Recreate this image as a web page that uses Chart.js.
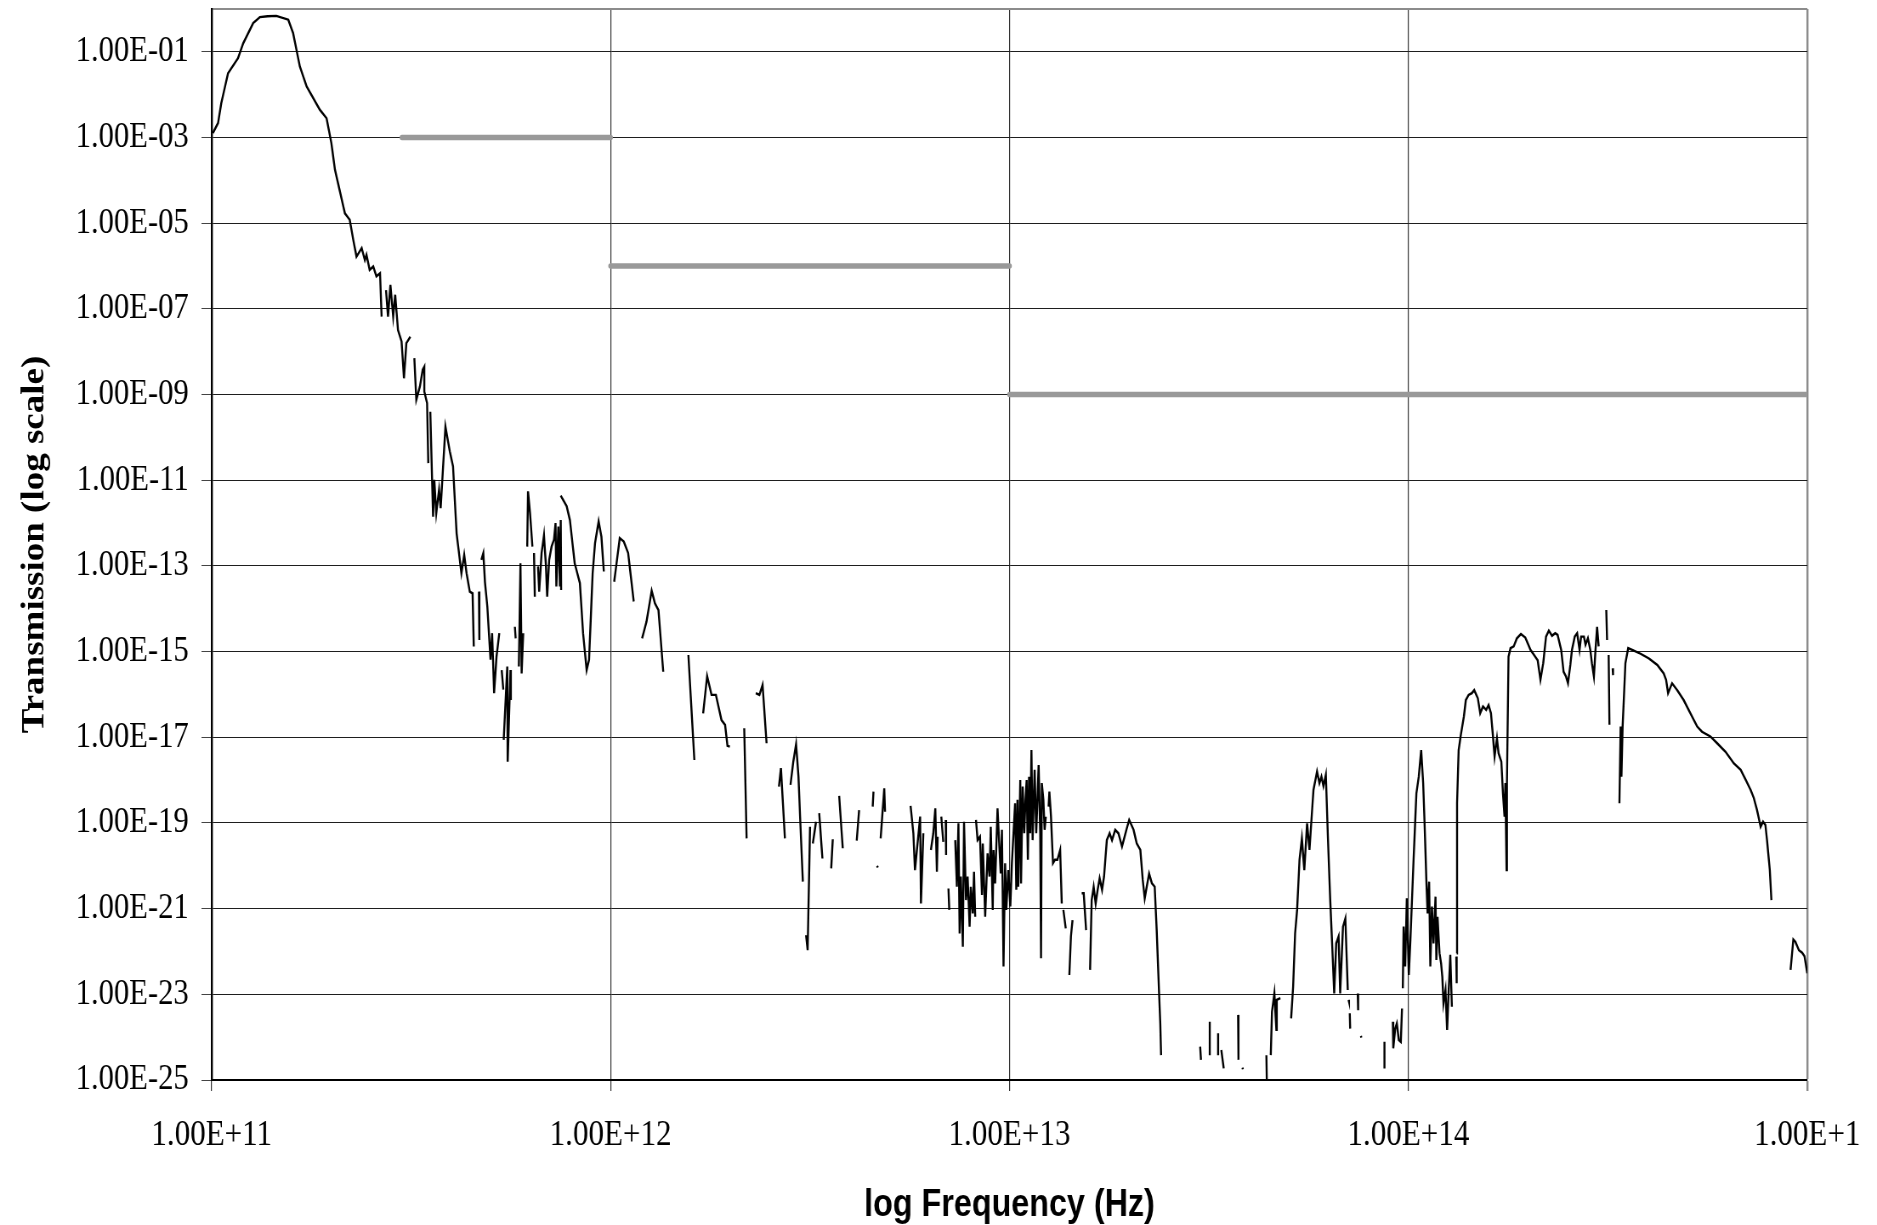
<!DOCTYPE html>
<html>
<head>
<meta charset="utf-8">
<title>Transmission vs frequency</title>
<script src="https://cdn.jsdelivr.net/npm/chart.js@4.4.0/dist/chart.umd.min.js"></script>
<style>
  html, body { margin: 0; padding: 0; background: #fff; }
  canvas { display: block; }
</style>
</head>
<body>
<!-- the original figure is squeezed sideways (narrow text), so draw wider and let css squeeze it -->
<canvas id="chart" width="2208" height="1225" style="width:1877px;height:1225px"></canvas>
<script>
// axis ticks (log10 values)
const xTickExp = [11, 12, 13, 14, 15];
const xTickLabels = ['1.00E+11', '1.00E+12', '1.00E+13', '1.00E+14', '1.00E+1'];
const yTickExp = [-25, -23, -21, -19, -17, -15, -13, -11, -9, -7, -5, -3, -1];
const yTickLabels = ['1.00E-25', '1.00E-23', '1.00E-21', '1.00E-19', '1.00E-17', '1.00E-15',
    '1.00E-13', '1.00E-11', '1.00E-09', '1.00E-07', '1.00E-05', '1.00E-03', '1.00E-01'];

// grey step limits
const limitFreq = [11.477, 12, null, 12, 13, null, 13, 15];
const limitTrans = [-3, -3, null, -6, -6, null, -9, -9];

// measured transmission, log10(Hz) and log10(T); null = gap in the data
const freqLog = [
    11.003,11.016,11.024,11.041,11.066,11.079,11.104,11.121,11.140,11.162,11.192,11.204,11.221,11.238,11.271,11.288,11.300,11.309,11.334,11.346,11.355,11.363,11.376,11.384,11.388,11.396,11.405,11.413,11.422,11.426, null,
    11.437,11.442,11.448,11.455,11.460,11.467,11.476,11.482,11.488,11.498, null,
    11.508,11.513,11.522,11.529,11.533,11.533,11.540,11.543, null,
    11.548,11.555,11.558,11.563,11.570,11.574,11.586,11.597,11.605,11.614,11.626,11.633,11.639,11.647,11.654,11.657, null,
    11.670,11.671, null,
    11.676,11.681,11.685,11.691,11.699,11.703,11.708,11.714,11.721, null,
    11.727,11.731, null,
    11.732,11.741,11.742,11.749,11.750, null,
    11.760,11.762, null,
    11.770,11.774,11.777,11.781, null,
    11.791,11.793,11.798,11.804, null,
    11.808,11.810, null,
    11.818,11.821,11.827,11.833,11.838,11.841,11.846,11.852,11.858,11.862,11.864,11.869,11.873,11.875,11.876, null,
    11.875,11.890,11.898,11.910,11.923,11.931,11.940,11.946,11.955,11.961,11.970,11.977,11.983, null,
    12.009,12.023,12.033,12.044,12.058, null,
    12.079,12.090,12.103,12.111,12.120,12.132, null,
    12.195,12.210, null,
    12.232,12.242,12.253,12.264,12.278,12.287,12.293,12.299, null,
    12.335,12.341, null,
    12.364,12.373,12.381,12.391, null,
    12.422,12.427,12.437, null,
    12.451,12.458,12.465,12.471,12.475,12.482, null,
    12.490,12.494,12.500, null,
    12.507,12.515, null,
    12.523,12.531, null,
    12.553,12.557, null,
    12.573,12.582, null,
    12.617,12.623, null,
    12.657,12.659, null,
    12.668,12.670, null,
    12.677,12.686,12.688, null,
    12.752,12.759,12.763,12.776,12.778,12.784, null,
    12.803,12.809,12.814,12.818,12.820, null,
    12.829,12.834, null,
    12.840,12.841, null,
    12.847,12.849, null,
    12.864,12.868,12.872,12.875,12.878,12.883,12.886,12.891,12.895,12.900,12.903,12.908,12.911,12.914, null,
    12.916,12.920,12.926,12.931,12.933,12.939,12.945,12.950,12.953,12.958,12.960,12.964,12.970,12.975,12.978,12.981,12.985,12.989,12.992,12.997,13.002,13.006,13.010,13.014,13.017,13.020,13.022,13.027,13.029,13.033,13.037,13.040,13.043,13.046,13.049,13.052,13.055,13.058,13.063,13.067,13.070,13.073,13.077,13.079,13.081,13.085,13.088,13.091, null,
    13.098,13.100,13.104,13.109,13.114,13.120,13.127,13.131, null,
    13.135,13.141, null,
    13.150,13.154,13.158, null,
    13.181,13.186,13.192, null,
    13.202,13.206,13.211,13.216,13.221,13.226,13.232,13.237,13.244,13.251,13.257,13.265,13.273,13.282,13.293,13.300,13.311,13.319,13.328,13.334,13.339,13.344,13.350,13.357,13.364,13.369,13.375,13.378,13.380, null,
    13.478,13.480, null,
    13.502,13.502, null,
    13.523,13.523, null,
    13.531,13.537, null,
    13.573,13.574, null,
    13.584,13.585, null,
    13.644,13.645, null,
    13.655,13.658,13.664,13.669,13.670,13.679, null,
    13.706,13.711,13.716,13.721,13.727,13.733,13.739,13.746,13.752,13.762,13.771,13.777,13.782,13.787,13.793,13.798,13.804,13.808,13.814,13.819,13.825,13.829,13.836,13.842,13.848, null,
    13.850,13.851, null,
    13.853,13.854, null,
    13.873,13.874, null,
    13.881,13.882, null,
    13.940,13.940, null,
    13.961,13.962,13.967,13.971,13.976,13.981,13.984, null,
    13.986,13.988,13.992,13.996,14.001,14.005,14.013,14.020,14.026,14.032,14.037,14.040,14.045,14.048,14.052,14.055,14.059,14.063,14.068,14.070,14.073,14.078,14.082,14.085,14.088,14.093,14.097,14.101,14.105,14.109, null,
    14.120,14.121, null,
    14.121,14.122,14.126,14.132,14.139,14.144,14.151,14.159,14.165,14.174,14.180,14.187,14.195,14.201,14.207,14.212,14.216,14.222,14.226,14.233,14.237,14.241,14.243,14.246,14.247,14.251,14.256,14.264,14.272,14.282,14.293,14.306,14.318,14.324,14.331,14.338,14.345,14.352,14.360,14.368,14.374,14.383,14.389,14.395,14.400,14.406,14.410,14.417,14.423,14.429,14.433,14.440,14.444,14.450,14.456,14.460,14.465,14.469,14.473,14.477, null,
    14.496,14.498, null,
    14.502,14.504, null,
    14.512,14.513, null,
    14.529,14.532,14.534,14.537,14.544,14.551,14.561,14.582,14.603,14.624,14.640,14.646,14.651,14.661,14.674,14.690,14.707,14.724,14.736,14.757,14.774,14.795,14.816,14.833,14.845,14.858,14.866,14.874,14.883,14.889,14.895,14.899,14.906,14.910, null,
    14.958,14.965,14.970,14.979,14.987,14.993,15.000
];
const transLog = [
    -2.90,-2.66,-2.20,-1.50,-1.15,-0.80,-0.33,-0.19,-0.17,-0.16,-0.25,-0.56,-1.34,-1.81,-2.35,-2.55,-3.13,-3.75,-4.77,-4.92,-5.39,-5.78,-5.58,-5.86,-5.74,-6.09,-6.01,-6.24,-6.17,-7.18, null,
    -6.56,-7.18,-6.44,-7.18,-6.67,-7.49,-7.76,-8.62,-7.80,-7.65, null,
    -8.15,-9.12,-8.81,-8.42,-8.35,-8.93,-9.20,-10.60, null,
    -9.40,-11.85,-10.99,-11.77,-11.22,-11.65,-9.75,-10.33,-10.68,-12.24,-13.17,-12.74,-13.17,-13.60,-13.64,-14.88, null,
    -13.60,-14.73, null,
    -12.86,-12.70,-13.37,-13.95,-15.19,-14.57,-15.97,-15.12,-14.57, null,
    -15.43,-15.89, null,
    -17.06,-15.35,-17.57,-15.43,-16.13, null,
    -14.42,-14.69, null,
    -15.35,-12.94,-15.51,-14.57, null,
    -12.55,-11.26,-11.77,-12.55, null,
    -12.70,-13.72, null,
    -13.01,-13.60,-12.70,-12.28,-13.01,-13.72,-12.86,-12.55,-12.39,-12.00,-13.48,-12.08,-13.48,-11.93,-13.56, null,
    -11.36,-11.61,-11.93,-12.94,-13.40,-14.57,-15.43,-15.19,-13.17,-12.47,-11.96,-12.32,-13.13, null,
    -13.37,-12.35,-12.43,-12.70,-13.83, null,
    -14.69,-14.30,-13.58,-13.87,-14.03,-15.47, null,
    -15.08,-17.53, null,
    -16.44,-15.57,-16.01,-16.01,-16.60,-16.71,-17.20,-17.22, null,
    -16.79,-19.36, null,
    -15.97,-16.01,-15.78,-17.14, null,
    -18.15,-17.72,-19.36, null,
    -18.11,-17.57,-17.16,-17.92,-18.85,-20.37, null,
    -21.62,-21.97,-19.09, null,
    -19.48,-18.97, null,
    -18.77,-19.83, null,
    -20.06,-19.38, null,
    -18.37,-19.59, null,
    -19.41,-18.70, null,
    -18.62,-18.27, null,
    -20.00,-20.04, null,
    -19.36,-18.19,-18.74, null,
    -18.60,-19.24,-20.10,-18.85,-20.88,-19.24, null,
    -19.63,-19.24,-18.66,-20.14,-19.32, null,
    -18.85,-19.44, null,
    -18.93,-19.75, null,
    -20.53,-21.03, null,
    -19.40,-20.49,-19.01,-21.58,-20.25,-21.89,-18.97,-20.80,-20.25,-21.42,-20.49,-21.11,-20.14,-21.19, null,
    -18.93,-19.40,-19.32,-20.68,-19.48,-21.19,-19.71,-20.25,-19.09,-21.03,-19.63,-20.41,-18.66,-19.63,-20.18,-19.16,-22.35,-19.94,-21.03,-20.10,-20.95,-19.94,-19.24,-18.54,-20.56,-18.46,-20.49,-18.00,-20.41,-18.15,-19.24,-18.46,-18.00,-19.86,-17.92,-19.24,-17.30,-19.40,-17.76,-19.24,-18.46,-17.65,-19.24,-22.16,-18.07,-18.46,-19.16,-18.85, null,
    -18.62,-18.27,-18.85,-19.94,-19.86,-19.86,-19.63,-20.88, null,
    -21.03,-21.46, null,
    -22.55,-21.65,-21.27, null,
    -20.64,-20.64,-21.50, null,
    -22.43,-20.80,-20.49,-20.88,-20.56,-20.29,-20.56,-20.25,-19.40,-19.24,-19.40,-19.16,-19.24,-19.55,-19.16,-18.93,-19.16,-19.48,-19.63,-20.33,-20.76,-20.49,-20.18,-20.41,-20.49,-21.50,-22.98,-23.68,-24.42, null,
    -24.22,-24.53, null,
    -23.64,-24.42, null,
    -23.91,-24.42, null,
    -24.30,-24.73, null,
    -23.48,-24.53, null,
    -24.71,-24.75, null,
    -24.42,-25.00, null,
    -24.42,-23.41,-22.98,-23.83,-23.13,-23.09, null,
    -23.56,-22.82,-21.58,-21.03,-19.86,-19.36,-20.10,-19.01,-19.63,-18.23,-17.80,-18.07,-17.92,-18.14,-17.88,-19.28,-20.80,-21.65,-22.98,-21.81,-21.65,-22.98,-21.42,-21.23,-22.90, null,
    -23.13,-23.17, null,
    -23.44,-23.80, null,
    -22.98,-23.37, null,
    -23.97,-24.01, null,
    -24.11,-24.73, null,
    -23.64,-24.26,-23.80,-23.68,-24.07,-24.11,-23.33, null,
    -22.86,-21.42,-22.35,-20.76,-22.55,-21.73,-19.86,-18.31,-17.92,-17.30,-18.07,-18.85,-20.33,-21.11,-20.37,-22.35,-20.95,-21.81,-20.72,-22.20,-21.19,-22.04,-22.28,-22.59,-23.21,-22.90,-23.83,-22.90,-22.08,-23.29, null,
    -22.12,-22.74, null,
    -22.04,-18.54,-17.30,-16.91,-16.52,-16.13,-16.01,-15.97,-15.90,-16.09,-16.44,-16.28,-16.36,-16.25,-16.44,-16.98,-17.45,-17.02,-17.37,-17.57,-18.31,-18.85,-18.07,-20.10,-18.07,-15.12,-14.92,-14.88,-14.69,-14.59,-14.67,-14.96,-15.12,-15.20,-15.66,-15.27,-14.65,-14.51,-14.63,-14.57,-14.61,-14.96,-15.47,-15.58,-15.74,-15.31,-14.96,-14.65,-14.57,-14.96,-14.65,-14.65,-14.84,-14.69,-14.96,-15.27,-15.58,-14.96,-14.42,-14.88, null,
    -14.03,-14.73, null,
    -15.08,-16.71, null,
    -15.39,-15.55, null,
    -18.54,-16.75,-17.92,-16.75,-15.27,-14.92,-14.96,-15.05,-15.16,-15.31,-15.51,-15.66,-15.97,-15.74,-15.90,-16.13,-16.44,-16.75,-16.87,-16.98,-17.14,-17.34,-17.61,-17.76,-17.98,-18.23,-18.42,-18.70,-19.09,-18.97,-19.05,-19.40,-20.10,-20.80, null,
    -22.43,-21.72,-21.77,-21.97,-22.03,-22.11,-22.51
];

if (freqLog.length !== transLog.length) console.log('length mismatch', freqLog.length, transLog.length);

let curve = freqLog.map((f, i) => ({ x: f, y: transLog[i] }));
let limits = limitFreq.map((f, i) => ({ x: f, y: limitTrans[i] }));

const isTick = (c, v) => c.tick && c.tick.value === v;

new Chart(document.getElementById('chart'), {
    type: 'line',
    data: {
        datasets: [
            {
                label: 'Transmission',
                data: curve,
                borderColor: '#000',
                borderWidth: 2.4,
                pointRadius: 0,
                tension: 0,
                spanGaps: false
            },
            {
                label: 'Limit',
                data: limits,
                borderColor: '#999999',
                borderWidth: 5.5,
                borderCapStyle: 'round',
                pointRadius: 0,
                spanGaps: false
            }
        ]
    },
    options: {
        responsive: false,
        animation: false,
        devicePixelRatio: 1,
        layout: { padding: { left: 0, top: 9, right: 82, bottom: 0 } },
        plugins: { legend: { display: false }, tooltip: { enabled: false } },
        scales: {
            x: {
                type: 'linear',
                min: 11,
                max: 15,
                afterBuildTicks: s => { s.ticks = xTickExp.map(v => ({ value: v })); },
                afterFit: s => { s.height = 145; s.paddingLeft = 0; s.paddingRight = 0; },
                grid: {
                    color: c => isTick(c, 15) ? '#8c8c8c' : '#333',
                    lineWidth: c => isTick(c, 15) ? 2.4 : 1.2,
                    tickLength: 11
                },
                border: { color: '#000', width: 2 },
                ticks: {
                    autoSkip: false,
                    maxRotation: 0,
                    padding: 23,
                    color: '#000',
                    font: { family: "'Liberation Serif', 'Times New Roman', serif", size: 36.5 },
                    callback: (v, i) => xTickLabels[i]
                },
                title: {
                    display: true,
                    text: 'log Frequency (Hz)',
                    color: '#000',
                    font: { family: "'Liberation Sans', Arial, sans-serif", size: 38, weight: 'bold', lineHeight: 1.05 },
                    padding: { top: 0, bottom: 0 }
                }
            },
            y: {
                type: 'linear',
                min: -25,
                max: 0,
                afterBuildTicks: s => { s.ticks = yTickExp.concat([0]).map(v => ({ value: v })); },
                afterFit: s => { s.width = 249; s.paddingTop = 0; s.paddingBottom = 0; },
                grid: {
                    color: c => isTick(c, 0) ? '#8c8c8c' : '#1e1e1e',
                    lineWidth: c => isTick(c, 0) ? 2 : 1,
                    tickColor: c => isTick(c, 0) ? 'rgba(0,0,0,0)' : '#444',
                    tickLength: 12
                },
                border: { color: '#000', width: 2.4 },
                ticks: {
                    autoSkip: false,
                    padding: 15,
                    color: '#000',
                    font: { family: "'Liberation Serif', 'Times New Roman', serif", size: 36 },
                    callback: (v, i) => yTickLabels[i] || ''
                },
                title: {
                    display: true,
                    text: 'Transmission (log scale)',
                    color: '#000',
                    font: { family: "'Liberation Serif', 'Times New Roman', serif", size: 37, weight: 'bold' },
                    padding: { top: 19, bottom: 0 }
                }
            }
        }
    }
});
</script>
</body>
</html>
